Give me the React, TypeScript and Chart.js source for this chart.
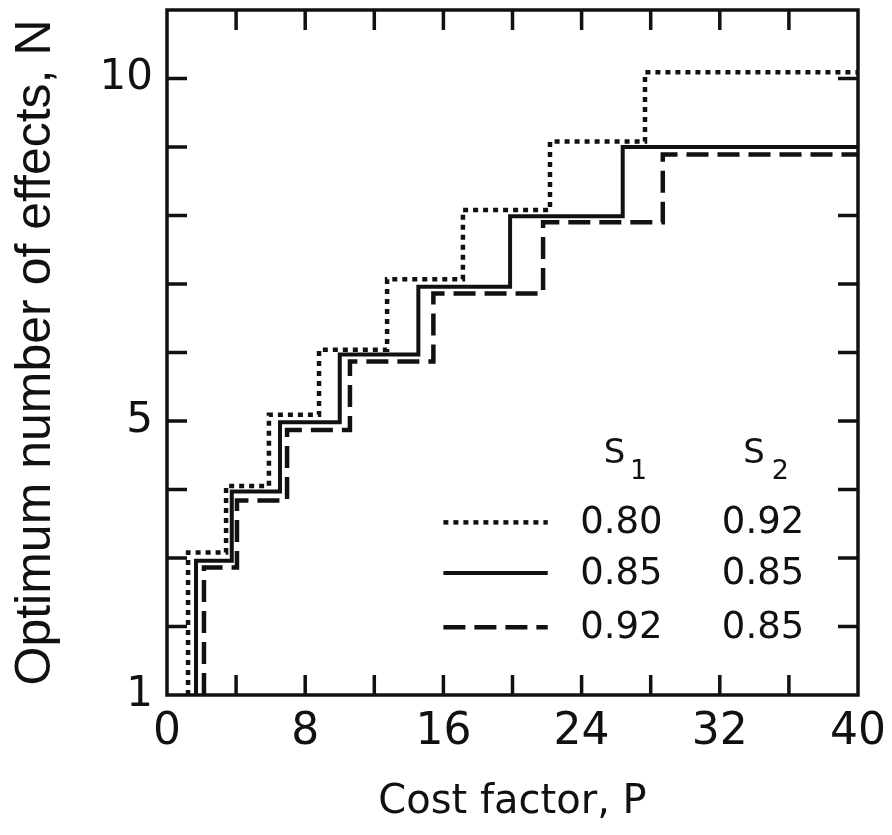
import React, { useEffect, useRef } from "react";
import { Chart, registerables } from "chart.js";

Chart.register(...registerables);

// ---- axis ranges and tick labels ----
const X_MIN = 0;
const X_MAX = 40;
const Y_MIN = 1;
const Y_MAX = 11;
const xTickLabels = [0, 8, 16, 24, 32, 40];
const yTickLabels = [1, 5, 10];

// ---- step series: cost factor P where N jumps, and the level N after the jump ----
// S1 = 0.80, S2 = 0.92 (dotted)
const dottedP = [1.22, 3.42, 5.9, 8.8, 12.74, 17.13, 22.17, 27.67, 33.46];
const dottedN = [2.07, 3.08, 4.05, 5.09, 6.04, 7.07, 8.08, 9.08, 10.09];
// S1 = 0.85, S2 = 0.85 (solid)
const solidP = [1.68, 3.75, 6.54, 10.0, 14.55, 19.86, 26.38, 33.92];
const solidN = [1.95, 2.96, 3.97, 4.98, 5.97, 6.96, 7.99, 9.0];
// S1 = 0.92, S2 = 0.85 (dashed)
const dashedP = [2.14, 4.05, 6.95, 10.59, 15.42, 21.77, 28.7, 36.6];
const dashedN = [1.86, 2.86, 3.84, 4.87, 5.87, 6.86, 7.9, 8.89];

// ---- legend table ----
const legendS1 = ["0.80", "0.85", "0.92"];
const legendS2 = ["0.92", "0.85", "0.85"];

const INK = "#111";
const NUM_FONT = "'DejaVu Sans', sans-serif";
const YTITLE_FONT = "'Liberation Sans', sans-serif";

function stepPoints(ps: number[], ns: number[]) {
  const pts: { x: number; y: number }[] = [{ x: ps[0], y: Y_MIN }];
  ps.forEach((p, i) => pts.push({ x: p, y: ns[i] }));
  pts.push({ x: X_MAX, y: ns[ns.length - 1] });
  return pts;
}

const dashes: number[][] = [[5, 5], [], [22, 9]];
const widths = [4.5, 4, 4.5];

const frameTicksPlugin = {
  id: "frameTicks",
  afterDatasetsDraw(chart: any) {
    const { ctx, chartArea: ca } = chart;
    const xs = chart.scales.x;
    const ys = chart.scales.y;
    const len = 20;
    ctx.save();
    ctx.strokeStyle = INK;
    ctx.lineWidth = 3.5;
    ctx.setLineDash([]);
    ctx.beginPath();
    xs.ticks.forEach((t: any) => {
      if (t.value <= X_MIN || t.value >= X_MAX) return;
      const px = xs.getPixelForValue(t.value);
      ctx.moveTo(px, ca.bottom);
      ctx.lineTo(px, ca.bottom - len);
      ctx.moveTo(px, ca.top);
      ctx.lineTo(px, ca.top + len);
    });
    ys.ticks.forEach((t: any) => {
      if (t.value <= Y_MIN || t.value >= Y_MAX) return;
      const py = ys.getPixelForValue(t.value);
      ctx.moveTo(ca.left, py);
      ctx.lineTo(ca.left + len, py);
      ctx.moveTo(ca.right, py);
      ctx.lineTo(ca.right - len, py);
    });
    ctx.stroke();
    ctx.lineWidth = 3.5;
    ctx.strokeRect(ca.left, ca.top, ca.right - ca.left, ca.bottom - ca.top);
    ctx.restore();
  },
};

const legendPlugin = {
  id: "tableLegend",
  afterDatasetsDraw(chart: any) {
    const { ctx, chartArea: ca } = chart;
    const w = ca.right - ca.left;
    const h = ca.bottom - ca.top;
    const X = (f: number) => ca.left + w * f;
    const Y = (f: number) => ca.top + h * f;
    const rows = [0.748, 0.822, 0.901];
    ctx.save();
    ctx.fillStyle = INK;
    ctx.strokeStyle = INK;
    // headers
    ctx.textBaseline = "alphabetic";
    ctx.textAlign = "left";
    ctx.font = `34px ${NUM_FONT}`;
    ctx.fillText("S", X(0.632), Y(0.661));
    ctx.fillText("S", X(0.834), Y(0.661));
    ctx.font = `27px ${NUM_FONT}`;
    ctx.fillText("1", X(0.67), Y(0.685));
    ctx.fillText("2", X(0.875), Y(0.685));
    // rows
    chart.data.datasets.forEach((ds: any, i: number) => {
      const y = Y(rows[i]);
      ctx.lineWidth = ds.borderWidth;
      ctx.setLineDash(ds.borderDash || []);
      ctx.beginPath();
      ctx.moveTo(X(0.40), y);
      ctx.lineTo(X(0.551), y);
      ctx.stroke();
      ctx.setLineDash([]);
      ctx.font = `37px ${NUM_FONT}`;
      ctx.textBaseline = "middle";
      ctx.fillText(legendS1[i], X(0.598), y + 1);
      ctx.fillText(legendS2[i], X(0.803), y + 1);
    });
    ctx.restore();
  },
};

export default function App() {
  const ref = useRef<HTMLCanvasElement>(null);
  useEffect(() => {
    const series = [
      { p: dottedP, n: dottedN },
      { p: solidP, n: solidN },
      { p: dashedP, n: dashedN },
    ];
    const chart = new Chart(ref.current as HTMLCanvasElement, {
      type: "line",
      data: {
        datasets: series.map((s, i) => ({
          label: ["0.80/0.92", "0.85/0.85", "0.92/0.85"][i],
          data: stepPoints(s.p, s.n),
          stepped: "after" as const,
          borderColor: INK,
          borderWidth: widths[i],
          borderDash: dashes[i],
          pointRadius: 0,
          fill: false,
        })),
      },
      options: {
        animation: false,
        responsive: true,
        maintainAspectRatio: false,
        layout: { padding: { top: 10, right: 34, left: 0, bottom: 0 } },
        plugins: {
          legend: { display: false },
          tooltip: { enabled: false },
        },
        scales: {
          x: {
            type: "linear",
            min: X_MIN,
            max: X_MAX,
            grid: { display: false, drawTicks: false },
            border: { display: false },
            afterFit: (s: any) => {
              s.height = 140;
              s.paddingLeft = 0;
              s.paddingRight = 0;
            },
            ticks: {
              stepSize: 4,
              autoSkip: false,
              maxRotation: 0,
              padding: 11,
              color: INK,
              font: { family: NUM_FONT, size: 44 },
              callback: (v: any) => (xTickLabels.includes(Number(v)) ? String(v) : ""),
            },
            title: {
              display: true,
              text: "Cost factor, P",
              color: INK,
              font: { family: NUM_FONT, size: 40 },
              padding: { top: 0, bottom: 8 },
            },
          },
          y: {
            type: "linear",
            min: Y_MIN,
            max: Y_MAX,
            grid: { display: false, drawTicks: false },
            border: { display: false },
            afterFit: (s: any) => {
              s.width = 167;
              s.paddingTop = 0;
              s.paddingBottom = 0;
            },
            ticks: {
              stepSize: 1,
              autoSkip: false,
              padding: 14,
              color: INK,
              font: { family: NUM_FONT, size: 42 },
              callback: (v: any) => (yTickLabels.includes(Number(v)) ? String(v) : ""),
            },
            title: {
              display: true,
              text: "Optimum number of effects, N",
              color: INK,
              font: { family: YTITLE_FONT, size: 50 },
              padding: { top: 6, bottom: 0 },
            },
          },
        },
      },
      plugins: [frameTicksPlugin, legendPlugin],
    });
    return () => chart.destroy();
  }, []);
  return (
    <div style={{ position: "fixed", left: 0, top: 0, width: 892, height: 835, background: "#fff" }}>
      <canvas ref={ref} />
    </div>
  );
}
